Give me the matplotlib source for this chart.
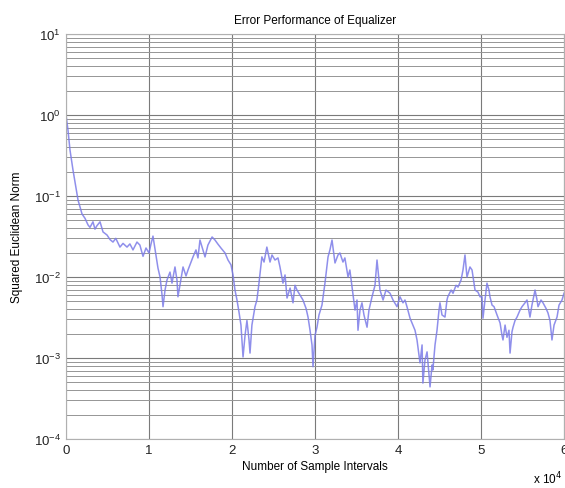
import matplotlib
matplotlib.use("Agg")
import matplotlib.pyplot as plt
from matplotlib.ticker import LogLocator, NullFormatter

plt.rcParams['font.family'] = ['Liberation Sans', 'DejaVu Sans']

# sample index in units of 10^4
samples = [0.0, 0.024, 0.048, 0.084, 0.108, 0.145, 0.193, 0.229, 0.265, 0.289,
           0.325, 0.349, 0.373, 0.41, 0.446, 0.494, 0.53, 0.566, 0.60, 0.65,
           0.687, 0.735, 0.77, 0.807, 0.855, 0.89, 0.928, 0.964, 1.0, 1.024,
           1.048, 1.084, 1.108, 1.133, 1.157, 1.169, 1.193, 1.217, 1.253, 1.277,
           1.313, 1.337, 1.349, 1.373, 1.41, 1.446, 1.47, 1.506, 1.53, 1.566,
           1.59, 1.614, 1.65, 1.675, 1.71, 1.76, 1.795, 1.83, 1.867, 1.916,
           1.952, 1.988, 2.012, 2.036, 2.06, 2.084, 2.108, 2.133, 2.157, 2.18,
           2.205, 2.217, 2.24, 2.277, 2.30, 2.325, 2.36, 2.386, 2.42, 2.458,
           2.482, 2.518, 2.554, 2.578, 2.614, 2.639, 2.663, 2.70, 2.735, 2.759,
           2.783, 2.819, 2.855, 2.892, 2.916, 2.94, 2.964, 2.976, 3.0, 3.024,
           3.048, 3.084, 3.12, 3.157, 3.18, 3.205, 3.241, 3.277, 3.30, 3.337,
           3.36, 3.398, 3.42, 3.446, 3.482, 3.506, 3.518, 3.542, 3.566, 3.59,
           3.627, 3.65, 3.687, 3.723, 3.747, 3.771, 3.783, 3.82, 3.855, 3.904,
           3.94, 3.988, 4.024, 4.06, 4.084, 4.108, 4.145, 4.169, 4.205, 4.229,
           4.265, 4.29, 4.30, 4.325, 4.35, 4.373, 4.386, 4.41, 4.42, 4.446,
           4.47, 4.494, 4.506, 4.53, 4.566, 4.59, 4.60, 4.64, 4.663, 4.699,
           4.723, 4.76, 4.783, 4.807, 4.831, 4.867, 4.892, 4.928, 4.964, 4.988,
           5.012, 5.024, 5.048, 5.072, 5.096, 5.108, 5.133, 5.157, 5.193, 5.23,
           5.253, 5.265, 5.29, 5.313, 5.337, 5.35, 5.373, 5.386, 5.41, 5.434,
           5.47, 5.494, 5.53, 5.554, 5.59, 5.614, 5.651, 5.675, 5.687, 5.723,
           5.747, 5.783, 5.807, 5.831, 5.855, 5.88, 5.916, 5.94, 5.976, 6.0]

# squared euclidean norm of the error
norm = [1.0, 0.65, 0.37, 0.21, 0.149, 0.089, 0.060, 0.053, 0.044, 0.041,
        0.048, 0.039, 0.043, 0.048, 0.036, 0.033, 0.029, 0.027, 0.030, 0.0234,
        0.026, 0.0234, 0.0256, 0.0216, 0.027, 0.0248, 0.018, 0.0228, 0.0198, 0.0255,
        0.032, 0.0187, 0.0129, 0.010, 0.006, 0.0043, 0.0069, 0.0092, 0.0115, 0.0084,
        0.0133, 0.0092, 0.0057, 0.0079, 0.0133, 0.0103, 0.0122, 0.0153, 0.0177, 0.0216,
        0.0172, 0.0286, 0.0216, 0.0177, 0.0248, 0.0312, 0.0286, 0.0255, 0.0228, 0.0198,
        0.0162, 0.0141, 0.0106, 0.0069, 0.0052, 0.0037, 0.00255, 0.00103, 0.0019, 0.0029,
        0.00167, 0.00115, 0.00255, 0.0043, 0.0052, 0.0084, 0.0177, 0.0153, 0.0234, 0.0153,
        0.0187, 0.0162, 0.0172, 0.0133, 0.0084, 0.0106, 0.0055, 0.0073, 0.0048, 0.0079,
        0.0069, 0.006, 0.0052, 0.0041, 0.0032, 0.0022, 0.00145, 0.00078, 0.0019, 0.0024,
        0.0034, 0.0045, 0.0084, 0.0177, 0.0216, 0.0286, 0.0149, 0.0187, 0.0198, 0.0153,
        0.0172, 0.010, 0.0122, 0.0075, 0.0039, 0.0052, 0.0022, 0.0039, 0.0048, 0.0034,
        0.0024, 0.0039, 0.0057, 0.0079, 0.0162, 0.0092, 0.0069, 0.0052, 0.0069, 0.0063,
        0.0052, 0.0043, 0.0057, 0.0048, 0.0052, 0.0043, 0.0031, 0.0027, 0.0022, 0.00167,
        0.00087, 0.00145, 0.00049, 0.00094, 0.00119, 0.00062, 0.00044, 0.00082, 0.00071, 0.00145,
        0.0022, 0.0039, 0.0048, 0.0034, 0.0032, 0.0052, 0.0057, 0.0069, 0.0063, 0.0079,
        0.0075, 0.0092, 0.0122, 0.0187, 0.010, 0.0133, 0.0122, 0.0069, 0.0065, 0.0057,
        0.0057, 0.0031, 0.0052, 0.0084, 0.0069, 0.0057, 0.0045, 0.0043, 0.0034, 0.0027,
        0.0019, 0.00167, 0.00255, 0.0018, 0.0022, 0.00115, 0.0021, 0.0024, 0.0029, 0.0032,
        0.0039, 0.0043, 0.0048, 0.0052, 0.0032, 0.0045, 0.0069, 0.0052, 0.0043, 0.0052,
        0.0048, 0.0041, 0.0036, 0.0029, 0.00167, 0.00255, 0.0032, 0.0045, 0.0052, 0.0063]

fig = plt.figure(figsize=(5.65, 4.89), dpi=100)
ax = fig.add_axes([66 / 565, 1 - 440 / 489, (564 - 66) / 565, (440 - 35) / 489])

ax.semilogy(samples, norm, color='#7c7ce8', linewidth=1.1, alpha=0.85)

ax.set_xlim(0, 6)
ax.set_ylim(1e-4, 1e1)
ax.set_xticks(range(0, 7))
ax.yaxis.set_major_locator(LogLocator(base=10, numticks=10))
ax.yaxis.set_minor_locator(LogLocator(base=10, subs=range(2, 10), numticks=20))
ax.yaxis.set_minor_formatter(NullFormatter())

ax.grid(True, which='major', color='#7a7a7a', linewidth=0.8)
ax.grid(True, which='minor', axis='y', color='#959595', linewidth=0.7)
ax.tick_params(which='both', direction='in', length=0, labelsize=9.5, colors='#222222')
for s in ax.spines.values():
    s.set_color('#b0b0b0')
    s.set_linewidth(0.8)

ax.set_title('Error Performance of Equalizer', fontsize=8.5, pad=8)
ax.set_xlabel('Number of Sample Intervals', fontsize=8.5, labelpad=3)
ax.set_ylabel('Squared Euclidean Norm', fontsize=8.5, labelpad=8)
fig.text(533 / 565, 1 - 479 / 489, r'x 10$^{4}$', fontsize=8.5, ha='left', va='center')

fig.savefig('out.png', dpi=100)
